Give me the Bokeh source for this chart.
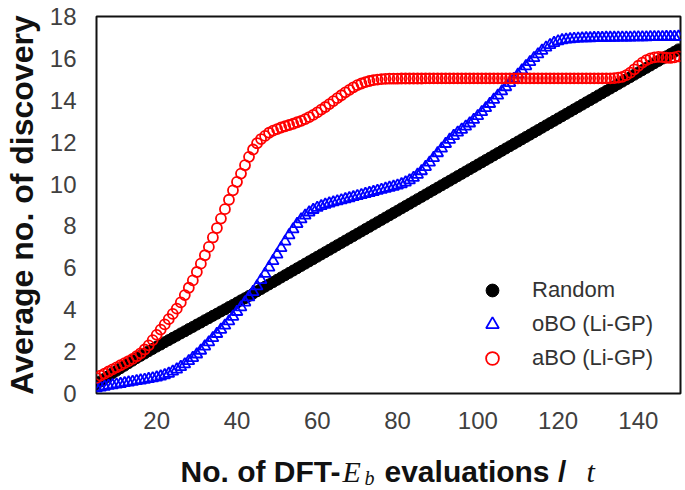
from bokeh.plotting import figure
from bokeh.models import Range1d, FixedTicker, Legend, LegendItem
from bokeh.layouts import column
from bokeh.core.properties import value
from bokeh.embed import file_html
from bokeh.resources import INLINE

# ---------------- data ----------------
t = list(range(5, 151))

random_avg = [
    0.45, 0.58, 0.71, 0.84, 0.97, 1.09, 1.21, 1.33, 1.45, 1.57,
    1.69, 1.80, 1.91, 2.02, 2.13, 2.24, 2.34, 2.45, 2.55, 2.66,
    2.76, 2.87, 2.97, 3.08, 3.18, 3.29, 3.39, 3.50, 3.60, 3.71,
    3.81, 3.92, 4.02, 4.13, 4.23, 4.34, 4.45, 4.55, 4.66, 4.77,
    4.88, 4.99, 5.10, 5.21, 5.32, 5.43, 5.54, 5.65, 5.76, 5.87,
    5.98, 6.09, 6.20, 6.31, 6.42, 6.53, 6.64, 6.75, 6.86, 6.97,
    7.08, 7.19, 7.30, 7.41, 7.52, 7.63, 7.74, 7.85, 7.96, 8.07,
    8.18, 8.29, 8.40, 8.51, 8.62, 8.73, 8.84, 8.95, 9.06, 9.17,
    9.28, 9.39, 9.50, 9.61, 9.72, 9.83, 9.94, 10.05, 10.16, 10.27,
    10.38, 10.49, 10.60, 10.71, 10.82, 10.93, 11.04, 11.15, 11.26, 11.37,
    11.48, 11.59, 11.70, 11.81, 11.92, 12.03, 12.14, 12.25, 12.36, 12.47,
    12.58, 12.69, 12.80, 12.91, 13.02, 13.13, 13.24, 13.35, 13.46, 13.57,
    13.68, 13.79, 13.90, 14.01, 14.12, 14.23, 14.34, 14.45, 14.56, 14.67,
    14.78, 14.89, 15.00, 15.11, 15.22, 15.33, 15.44, 15.55, 15.66, 15.77,
    15.88, 15.99, 16.10, 16.21, 16.32, 16.43,
]

obo_avg = [
    0.25, 0.29, 0.33, 0.37, 0.40, 0.43, 0.46, 0.50, 0.53, 0.56,
    0.60, 0.63, 0.66, 0.70, 0.73, 0.77, 0.82, 0.88, 0.95, 1.05,
    1.15, 1.27, 1.40, 1.55, 1.70, 1.87, 2.05, 2.25, 2.45, 2.65,
    2.85, 3.05, 3.25, 3.45, 3.67, 3.90, 4.12, 4.35, 4.60, 4.85,
    5.12, 5.42, 5.72, 6.02, 6.33, 6.64, 6.95, 7.26, 7.56, 7.84,
    8.10, 8.32, 8.50, 8.65, 8.77, 8.87, 8.95, 9.02, 9.08, 9.13,
    9.18, 9.23, 9.28, 9.33, 9.38, 9.43, 9.48, 9.53, 9.58, 9.63,
    9.68, 9.73, 9.78, 9.83, 9.88, 9.93, 10.00, 10.08, 10.18, 10.30,
    10.45, 10.62, 10.82, 11.03, 11.25, 11.48, 11.70, 11.92, 12.12, 12.30,
    12.46, 12.60, 12.75, 12.90, 13.07, 13.25, 13.44, 13.63, 13.83, 14.03,
    14.23, 14.43, 14.63, 14.83, 15.03, 15.23, 15.43, 15.63, 15.83, 16.02,
    16.20, 16.37, 16.52, 16.64, 16.74, 16.82, 16.87, 16.90, 16.92, 16.94,
    16.95, 16.96, 16.97, 16.97, 16.98, 16.98, 16.98, 16.99, 16.99, 16.99,
    17.00, 17.00, 17.00, 17.00, 17.01, 17.01, 17.01, 17.01, 17.02, 17.02,
    17.02, 17.02, 17.03, 17.03, 17.03, 17.04,
]

abo_avg = [
    0.75, 0.85, 0.95, 1.05, 1.15, 1.25, 1.35, 1.45, 1.55, 1.65,
    1.78, 1.92, 2.10, 2.30, 2.55, 2.80, 3.05, 3.30, 3.55, 3.80,
    4.05, 4.35, 4.70, 5.05, 5.40, 5.80, 6.20, 6.60, 7.00, 7.45,
    7.90, 8.35, 8.80, 9.25, 9.70, 10.10, 10.50, 10.90, 11.30, 11.65,
    11.95, 12.15, 12.30, 12.45, 12.55, 12.62, 12.70, 12.76, 12.82, 12.88,
    12.95, 13.02, 13.10, 13.20, 13.30, 13.42, 13.55, 13.68, 13.82, 13.96,
    14.10, 14.24, 14.38, 14.50, 14.62, 14.72, 14.80, 14.87, 14.92, 14.96,
    14.99, 15.01, 15.02, 15.03, 15.03, 15.03, 15.04, 15.04, 15.04, 15.04,
    15.04, 15.04, 15.05, 15.05, 15.05, 15.05, 15.05, 15.05, 15.05, 15.05,
    15.05, 15.05, 15.05, 15.05, 15.05, 15.05, 15.05, 15.05, 15.05, 15.05,
    15.05, 15.05, 15.05, 15.05, 15.05, 15.05, 15.05, 15.05, 15.05, 15.05,
    15.05, 15.05, 15.05, 15.05, 15.05, 15.05, 15.05, 15.05, 15.05, 15.05,
    15.05, 15.05, 15.05, 15.05, 15.05, 15.05, 15.05, 15.05, 15.05, 15.06,
    15.08, 15.12, 15.20, 15.32, 15.48, 15.65, 15.80, 15.92, 16.00, 16.05,
    16.07, 16.06, 16.03, 16.02, 16.05, 16.10,
]

x_ticks = [20, 40, 60, 80, 100, 120, 140]
y_ticks = [0, 2, 4, 6, 8, 10, 12, 14, 16, 18]

series_labels = ["Random", "oBO (Li-GP)", "aBO (Li-GP)"]
y_title = "Average no. of discovery"
x_title_parts = ["No. of DFT-", "E", "b", "evaluations /", "t"]

# ---------------- main figure ----------------
FL, FR = 96, 680          # frame left / right in page pixels
p = figure(frame_width=FR - FL, frame_height=377, output_backend="svg",
           toolbar_location=None,
           x_range=Range1d(5, 150.5), y_range=Range1d(0, 18),
           min_border_left=FL, min_border_right=4, min_border_top=16,
           min_border_bottom=47)
p.grid.visible = False
p.background_fill_color = "white"
p.border_fill_color = "white"
p.outline_line_color = "#111111"
p.outline_line_width = 2

r_rand = p.scatter(t, random_avg, marker="circle", size=11,
                   fill_color="black", line_color="black")
r_obo = p.scatter(t, obo_avg, marker="triangle", size=11, fill_color=None,
                  line_color="#0000ff", line_width=1.8)
r_abo = p.scatter(t, abo_avg, marker="circle", size=10, fill_color=None,
                  line_color="#ff0000", line_width=1.8)

for ax in p.axis:
    ax.major_tick_in = 0
    ax.major_tick_out = 0
    ax.minor_tick_line_color = None
    ax.axis_line_color = None
    ax.major_label_text_font = "Liberation Sans"
    ax.major_label_text_font_size = "24px"
    ax.major_label_text_color = "#404040"

p.xaxis.ticker = FixedTicker(ticks=x_ticks)
p.yaxis.ticker = FixedTicker(ticks=y_ticks)
p.xaxis.major_label_standoff = 18
p.yaxis.major_label_standoff = 20

p.yaxis.axis_label = y_title
p.yaxis.axis_label_text_font = "Liberation Sans"
p.yaxis.axis_label_text_font_style = "bold"
p.yaxis.axis_label_text_font_size = "32px"
p.yaxis.axis_label_text_color = "#111111"
p.yaxis.axis_label_standoff = 7

legend = Legend(items=[LegendItem(label=series_labels[0], renderers=[r_rand]),
                       LegendItem(label=series_labels[1], renderers=[r_obo]),
                       LegendItem(label=series_labels[2], renderers=[r_abo])],
                location=(380, 19), glyph_width=32, glyph_height=32, spacing=2,
                padding=0, margin=0, label_standoff=24,
                border_line_color=None, background_fill_alpha=0,
                label_text_font="Liberation Sans", label_text_font_size="22px",
                label_text_color="#333333")
p.add_layout(legend)

# ---------------- x-axis title strip (mixed fonts) ----------------
# its frame is aligned with the main frame, so x is in page pixels FL..FR
H2 = 50
q = figure(frame_width=FR - FL, frame_height=H2, output_backend="svg",
           toolbar_location=None,
           x_range=Range1d(FL, FR), y_range=Range1d(0, H2),
           x_axis_location=None, y_axis_location=None,
           min_border_left=FL, min_border_right=4, min_border_top=0,
           min_border_bottom=0)
q.grid.visible = False
q.outline_line_color = None

base = 19
q.text(x=[340], y=[base], text=[x_title_parts[0]], text_font=value("Liberation Sans"),
       text_font_style="bold", text_font_size="30px", text_color="#111111",
       text_align="right", text_baseline="alphabetic")
q.text(x=[342], y=[base], text=[x_title_parts[1]], text_font=value("Liberation Serif"),
       text_font_style="italic", text_font_size="30px", text_color="#111111",
       text_align="left", text_baseline="alphabetic")
q.text(x=[364], y=[base - 6], text=[x_title_parts[2]], text_font=value("Liberation Serif"),
       text_font_style="italic", text_font_size="20px", text_color="#111111",
       text_align="left", text_baseline="alphabetic")
q.text(x=[384], y=[base], text=[x_title_parts[3]], text_font=value("Liberation Sans"),
       text_font_style="bold", text_font_size="30px", text_color="#111111",
       text_align="left", text_baseline="alphabetic")
q.text(x=[586], y=[base], text=[x_title_parts[4]], text_font=value("Liberation Serif"),
       text_font_style="italic", text_font_size="30px", text_color="#111111",
       text_align="left", text_baseline="alphabetic")

layout = column(p, q, spacing=0)
open("out.html", "w").write(file_html(layout, INLINE))
